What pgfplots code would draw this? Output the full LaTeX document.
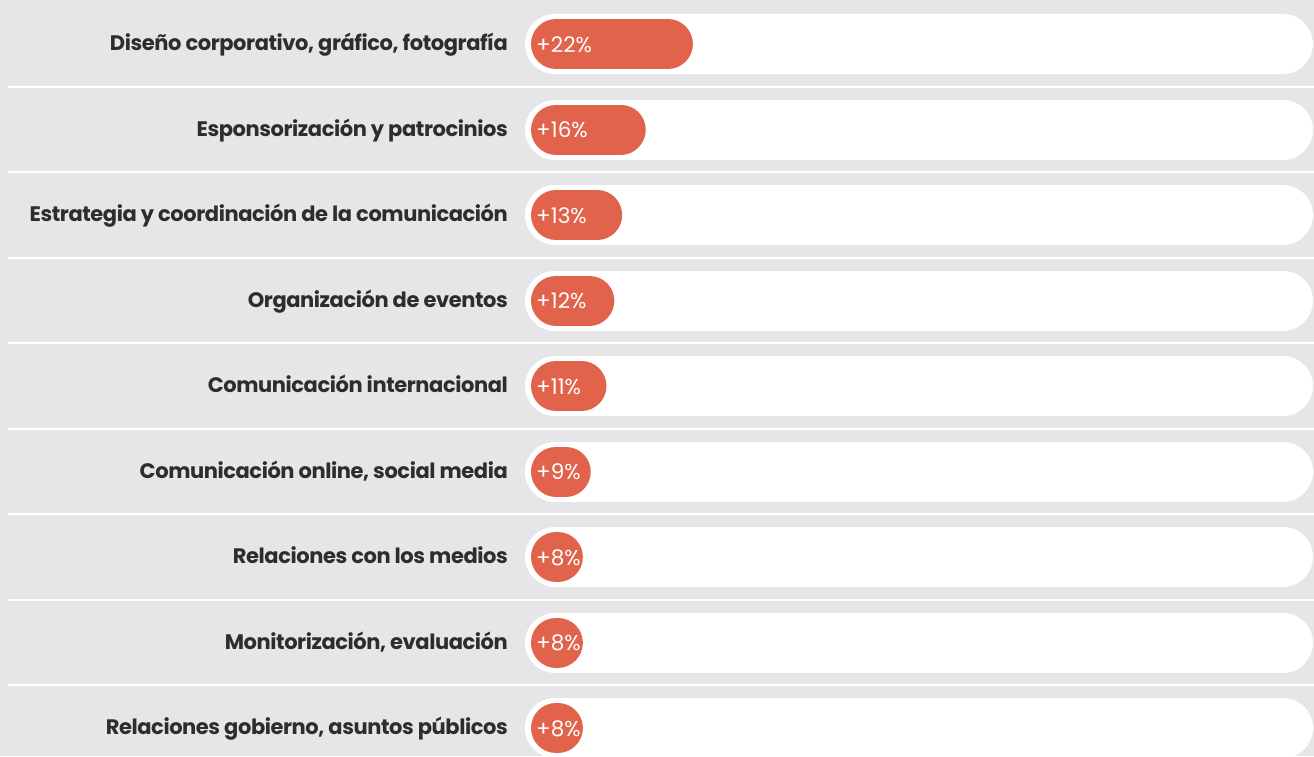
\documentclass[border=0pt]{standalone}
\usepackage{pgfplots}
\pgfplotsset{compat=1.18}
\usepackage{pgfplotstable}
\usepackage{fontspec}
\setmainfont{Poppins}
\newfontfamily\labfont{Poppins Bold}[LetterSpace=-2]
\newfontfamily\valfont{Poppins}
\definecolor{bggray}{HTML}{E6E6E8}
\definecolor{barorange}{HTML}{E2634B}
\definecolor{txtdark}{HTML}{2D2D30}

\pgfplotstableread[col sep=semicolon]{
y;v;label
1;22;Diseño corporativo, gráfico, fotografía
2;16;Esponsorización y patrocinios
3;13;Estrategia y coordinación de la comunicación
4;12;Organización de eventos
5;11;Comunicación internacional
6;9;Comunicación online, social media
7;8;Relaciones con los medios
8;8;Monitorización, evaluación
9;8;Relaciones gobierno, asuntos públicos
}\data

\begin{document}
\begin{tikzpicture}
\fill[bggray] (0,0) rectangle (1314pt,756pt);
\begin{axis}[
  at={(0,0)}, anchor=south west,
  scale only axis, width=1314pt, height=756pt,
  xmin=-62.98, xmax=104.2,
  ymin=0.48538, ymax=9.3275, y dir=reverse,
  axis line style={draw=none},
  tick style={draw=none},
  major tick length=0pt,
  xtick=\empty,
  ytick={1,...,9},
  yticklabels from table={\data}{label},
  yticklabel style={anchor=base east, xshift=508pt, yshift=-6.5pt, inner sep=0pt,
    font=\labfont\fontsize{21}{21}\selectfont, text=txtdark},
  clip=true,
  /pgf/number format/assume math mode=true,
]
\pgfplotsinvokeforeach{1.5,2.5,3.5,4.5,5.5,6.5,7.5,8.5}{
  \draw[white, line width=2pt] (axis cs:-61.96,#1) -- (axis cs:104.2,#1);
}
\pgfplotsinvokeforeach{1,2,3,4,5,6,7,8,9}{
  \draw[white, line width=60pt, line cap=round] (axis cs:7.63,#1) -- (axis cs:100.25,#1);
}
\addplot[draw=none, mark=none,
  error bars/.cd, x dir=minus, x explicit, error mark=none,
  error bar style={line width=50pt, line cap=round, draw=barorange, solid}]
  table[x=v, y=y, x error minus expr=\thisrow{v}-7.76] {\data};
\addplot[draw=none, mark=none, point meta=explicit,
  nodes near coords={+\pgfmathprintnumber{\pgfplotspointmeta}\%},
  nodes near coords style={anchor=base west, inner sep=0pt, yshift=-8pt, text=white,
    font=\valfont\fontsize{21.5}{21.5}\selectfont}]
  table[x expr=5.22, y=y, meta=v] {\data};
\end{axis}
\pgfresetboundingbox
\path[use as bounding box] (0,0) rectangle (1314pt,756pt);
\end{tikzpicture}
\end{document}
